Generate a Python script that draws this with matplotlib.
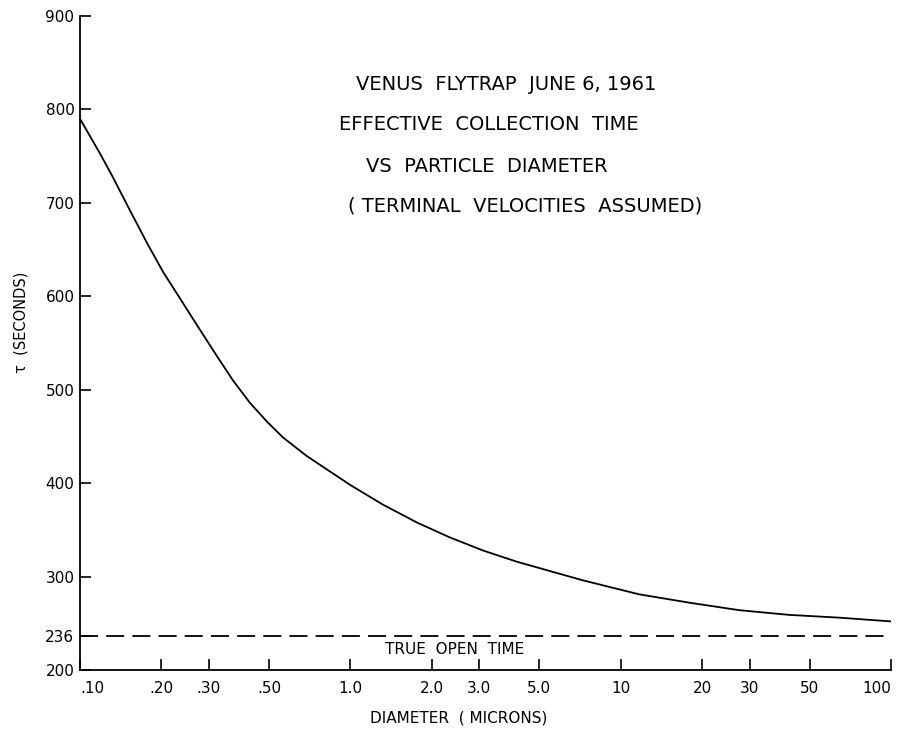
import matplotlib.pyplot as plt
from matplotlib.ticker import FixedLocator, NullLocator

# Datos (diametro en micras, tau en segundos)
diametro = [0.10, 0.119, 0.132, 0.153, 0.177, 0.203, 0.234, 0.278, 0.321,
            0.368, 0.425, 0.491, 0.563, 0.69, 1.0, 1.32, 1.76, 2.33, 3.09,
            4.12, 5.46, 7.24, 11.7, 18, 27.5, 42, 64.5, 100]
tau = [790, 752, 728, 692, 657, 626, 598, 564, 536,
       510, 486, 466, 449, 429, 398, 377, 358, 342, 328,
       316, 306, 296, 281, 272, 264, 259, 256, 252]

tiempo_abierto = 236

x_ticks = [0.1, 0.2, 0.3, 0.5, 1, 2, 3, 5, 10, 20, 30, 50, 100]
x_etiquetas = [".10", ".20", ".30", ".50", "1.0", "2.0", "3.0", "5.0", "10", "20", "30", "50", "100"]
y_ticks = [200, 236, 300, 400, 500, 600, 700, 800, 900]
y_etiquetas = ["200", "236", "300", "400", "500", "600", "700", "800", "900"]

titulo = ["VENUS  FLYTRAP  JUNE 6, 1961",
          "EFFECTIVE  COLLECTION  TIME",
          "VS  PARTICLE  DIAMETER",
          "( TERMINAL  VELOCITIES  ASSUMED)"]

fig = plt.figure(figsize=(8.97, 7.35), dpi=100)
ax = fig.add_axes([80 / 897, 65 / 735, 811 / 897, 654 / 735])

ax.plot(diametro, tau, color='black', linewidth=1.3)
ax.axhline(tiempo_abierto, color='black', linewidth=1.3, linestyle=(0, (10, 4.5)))

ax.set_xscale('log')
ax.set_xlim(0.1, 100)
ax.set_ylim(200, 900)

ax.xaxis.set_major_locator(FixedLocator(x_ticks))
ax.xaxis.set_minor_locator(NullLocator())
ax.set_xticklabels(x_etiquetas)
ax.set_yticks(y_ticks)
ax.set_yticklabels(y_etiquetas)

ax.tick_params(axis='both', direction='in', length=8, width=1.2, labelsize=11)
ax.tick_params(axis='x', pad=8)
ax.tick_params(axis='y', pad=4)

# primera y ultima etiqueta del eje x alineadas para que no se corten
etiquetas_x = ax.get_xticklabels()
etiquetas_x[0].set_horizontalalignment('left')
etiquetas_x[-1].set_horizontalalignment('right')

ax.spines['top'].set_visible(False)
ax.spines['right'].set_visible(False)
ax.spines['left'].set_linewidth(1.3)
ax.spines['bottom'].set_linewidth(1.3)

ax.set_xlabel("DIAMETER  ( MICRONS)", fontsize=11)
ax.xaxis.set_label_coords((459 - 80) / 811, -0.062)
ax.set_ylabel("τ  (SECONDS)", fontsize=10.5)
ax.yaxis.set_label_coords(-0.064, (670 - 322) / 654)

# Titulo en el interior del grafico
posiciones = [(506, 84), (489, 125), (487, 166), (525, 206)]
for linea, (px, py) in zip(titulo, posiciones):
    fig.text(px / 897, 1 - py / 735, linea, fontsize=14, va='center', ha='center')

ax.text(2.43, 222, "TRUE  OPEN  TIME", fontsize=11, ha='center', va='center')

plt.savefig("out.png", dpi=100)
